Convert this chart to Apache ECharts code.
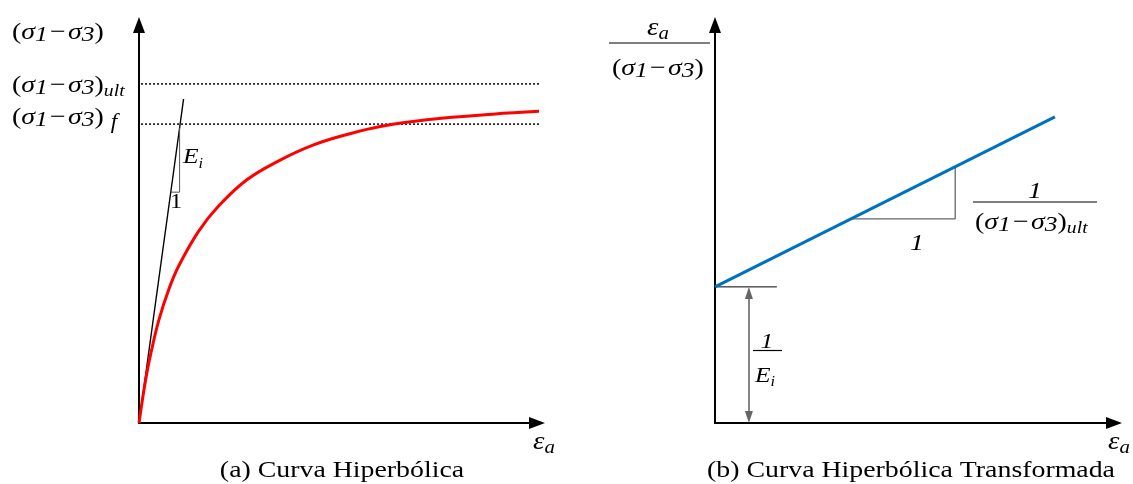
<!DOCTYPE html>
<html>
<head>
<meta charset="utf-8">
<script src="https://cdn.jsdelivr.net/npm/echarts@6/dist/echarts.min.js"></script>
<style>
  html, body { margin: 0; padding: 0; background: #fff; }
  #chart { width: 1133px; height: 484px; }
</style>
</head>
<body>
<div id="chart"></div>
<script>
// Panel (a): hyperbolic stress–strain curve, points as [εa, σ1−σ3]
const hyperbolicCurve = [
  [0, 0], [0.1, 0.68], [0.2, 1.27], [0.3, 1.76], [0.5, 2.59], [0.75, 3.36],
  [1.0, 3.95], [1.5, 4.82], [2.0, 5.45], [2.71, 6.11], [3.5, 6.58],
  [4.37, 6.98], [5.23, 7.25], [6.06, 7.45], [7.24, 7.62], [8.89, 7.76],
  [10.25, 7.84]
];
const initialTangent = [[0, 0], [1.12, 8.14]];
const tangentTriangle = [[0.80, 5.80], [1.02, 5.80], [1.02, 7.42]];
const ultimateLevel = 8.52;   // (σ1−σ3)ult
const failureLevel = 7.51;    // (σ1−σ3)f
const levelSpan = [-0.15, 10.23];

// Panel (b): transformed line, points as [εa, εa/(σ1−σ3)]
const transformedLine = [[0, 3.42], [8.52, 7.69]];
const slopeTriangle = [[3.43, 5.13], [6.02, 5.13], [6.02, 6.44]];
const interceptTickEnd = 1.55;
const interceptArrowX = 0.85;

const captions = ['(a) Curva Hiperbólica', '(b) Curva Hiperbólica Transformada'];

const SERIF = '"Liberation Serif", "Times New Roman", serif';
const PX_PER_UNIT = 39.8;
const SX = 1.16;   // horizontal stretch of the lettering

// rich-text token: size, italic, extra drop below the main baseline
function tok(size, italic, drop, main) {
  const m = main || size;
  return {
    fontFamily: SERIF, fontSize: size, lineHeight: size,
    fontStyle: italic ? 'italic' : 'normal', color: '#000',
    verticalAlign: 'top',
    padding: [Math.max(0, 0.84 * m - 0.84 * size + (drop || 0)), 0, 0, 0]
  };
}
function richSet(M) {
  return {
    r: tok(M, false, 0, M),
    i: tok(M, true, 0, M),
    m: Object.assign(tok(M, false, 0, M), { padding: [0, 2, 0, 2] }),
    d: tok(Math.round(M * 0.92), true, 2, M),
    u: tok(Math.round(M * 0.7), true, 4, M),
    f: tok(Math.round(M * 0.85), true, 4, M),
    e: tok(Math.round(M * 0.62), true, 4, M),
    a: tok(Math.round(M * 0.72), true, 3, M)
  };
}
const SIG = '{r|(}{i|σ}{d|1}{m|−}{i|σ}{d|3}{r|)}';

function text(x, baseline, M, str, align) {
  return {
    type: 'text', silent: true, x: x, y: baseline - 0.84 * M + 2, scaleX: SX,
    style: {
      x: 0, y: 0, text: str, rich: richSet(M),
      align: align || 'left', verticalAlign: 'top',
      fontFamily: SERIF, fontSize: M, fill: '#000'
    }
  };
}
function plainText(cx, baseline, M, str) {
  return {
    type: 'text', silent: true, x: cx, y: baseline - 0.84 * M + 2, scaleX: SX,
    style: { x: 0, y: 0, text: str, align: 'center', verticalAlign: 'top',
      fontFamily: SERIF, fontSize: M, fill: '#000' }
  };
}
function bar(x1, x2, y) {
  return { type: 'line', silent: true, shape: { x1: x1, y1: y, x2: x2, y2: y }, style: { stroke: '#000', lineWidth: 1.2 } };
}

function axis(gridIndex) {
  return {
    gridIndex: gridIndex, type: 'value', min: 0, max: 10,
    axisLine: { show: true, onZero: false, symbol: ['none', 'triangle'], symbolSize: [12, 16],
      lineStyle: { color: '#000', width: 2 } },
    axisTick: { show: false }, axisLabel: { show: false }, splitLine: { show: false }
  };
}
function line(grid, data, color, width, type, smooth) {
  return {
    type: 'line', xAxisIndex: grid, yAxisIndex: grid, data: data,
    smooth: smooth || false, showSymbol: false, symbol: 'none', clip: false, silent: true,
    lineStyle: { color: color, width: width, type: type || 'solid' },
    emphasis: { disabled: true }, animation: false
  };
}

const arrowInset = 6 / PX_PER_UNIT;
const intercept = transformedLine[0][1];

const option = {
  animation: false,
  grid: [
    { left: 139, top: 25, width: 398, height: 398 },
    { left: 715, top: 25, width: 399, height: 398 }
  ],
  xAxis: [axis(0), axis(1)],
  yAxis: [axis(0), axis(1)],
  series: [
    line(0, [[levelSpan[0], ultimateLevel], [levelSpan[1], ultimateLevel]], '#000', 1.5, [2, 2]),
    line(0, [[levelSpan[0], failureLevel], [levelSpan[1], failureLevel]], '#000', 1.5, [2, 2]),
    line(0, initialTangent, '#000', 1.4),
    line(0, tangentTriangle, '#555', 1),
    line(0, hyperbolicCurve, '#ff0000', 3, 'solid', 0.4),
    line(1, slopeTriangle, '#666', 1.3),
    Object.assign(line(1, [[0, intercept], [interceptTickEnd, intercept]], '#000', 1), {
      markLine: {
        silent: true, animation: false,
        symbol: ['triangle', 'triangle'], symbolSize: [8, 12],
        lineStyle: { color: '#666', width: 1.6, type: 'solid' },
        label: { show: false }, emphasis: { disabled: true },
        data: [[{ coord: [interceptArrowX, intercept - arrowInset] }, { coord: [interceptArrowX, arrowInset] }]]
      }
    }),
    line(1, transformedLine, '#0070c0', 3)
  ],
  graphic: [
    // panel (a) labels
    text(12, 39, 24, SIG),
    text(12, 91.5, 24, SIG + '{u|ult}'),
    text(12, 123.5, 24, SIG + '{r| }{f|f}'),
    text(183, 163, 22, '{i|E}{e|i}'),
    plainText(176, 208, 21, '1'),
    text(533, 449, 25, '{i|ε}{a|a}'),
    plainText(342, 476.5, 24, captions[0]),
    // panel (b) labels
    text(647, 35, 25, '{i|ε}{a|a}'),
    bar(609, 710, 43),
    text(612, 75, 24, SIG),
    text(1035, 198, 24, '{i|1}', 'center'),
    bar(973, 1097, 202),
    text(975, 228.5, 24, SIG + '{u|ult}'),
    text(917, 250, 24, '{i|1}', 'center'),
    text(767, 348, 22, '{i|1}', 'center'),
    bar(753, 782, 350.5),
    text(755, 381.5, 22, '{i|E}{e|i}'),
    text(1108, 449, 25, '{i|ε}{a|a}'),
    plainText(911, 476.5, 24, captions[1])
  ]
};

echarts.init(document.getElementById('chart'), null, { renderer: 'canvas' }).setOption(option);
</script>
</body>
</html>
